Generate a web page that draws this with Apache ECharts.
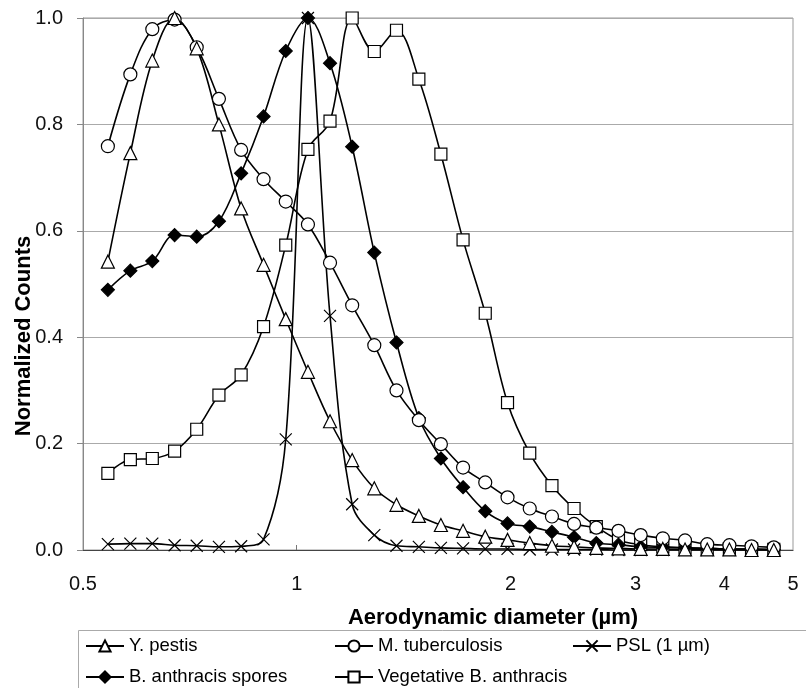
<!DOCTYPE html>
<html>
<head>
<meta charset="utf-8">
<script src="https://cdn.jsdelivr.net/npm/echarts@6/dist/echarts.min.js"></script>
<style>
html,body{margin:0;padding:0;background:#fff;}
#chart{width:806px;height:688px;}
</style>
</head>
<body>
<div id="chart"></div>
<script>
// Aerodynamic diameter bins (µm)
var diameters = [0.542, 0.583, 0.626, 0.673, 0.723, 0.777, 0.835, 0.898, 0.965, 1.037, 1.114, 1.197, 1.286, 1.382, 1.486, 1.596, 1.715, 1.843, 1.981, 2.129, 2.288, 2.458, 2.642, 2.839, 3.051, 3.278, 3.523, 3.786, 4.068, 4.371, 4.698];

var yPestis = [0.542, 0.746, 0.920, 1.000, 0.943, 0.800, 0.642, 0.536, 0.434, 0.335, 0.242, 0.169, 0.116, 0.085, 0.064, 0.047, 0.036, 0.025, 0.019, 0.013, 0.008, 0.006, 0.004, 0.003, 0.002, 0.002, 0.001, 0.001, 0.001, 0.000, 0.000];
var mTuberculosis = [0.759, 0.894, 0.979, 0.997, 0.945, 0.848, 0.752, 0.697, 0.655, 0.612, 0.540, 0.460, 0.385, 0.300, 0.244, 0.199, 0.155, 0.127, 0.099, 0.078, 0.063, 0.049, 0.042, 0.036, 0.028, 0.022, 0.018, 0.011, 0.009, 0.007, 0.005];
var psl = [0.011, 0.012, 0.012, 0.009, 0.008, 0.006, 0.007, 0.020, 0.208, 1.000, 0.440, 0.086, 0.028, 0.008, 0.006, 0.004, 0.003, 0.002, 0.002, 0.001, 0.001, 0.001, 0.001, 0.000, 0.000, 0.000, 0.000, 0.000, 0.000, 0.000, 0.000];
var baSpores = [0.489, 0.525, 0.543, 0.592, 0.589, 0.618, 0.708, 0.815, 0.938, 1.000, 0.915, 0.758, 0.559, 0.390, 0.248, 0.172, 0.118, 0.073, 0.050, 0.044, 0.034, 0.024, 0.013, 0.010, 0.006, 0.005, 0.004, 0.003, 0.002, 0.002, 0.001];
var vegBa = [0.144, 0.170, 0.172, 0.186, 0.227, 0.291, 0.329, 0.420, 0.573, 0.753, 0.806, 1.000, 0.937, 0.977, 0.885, 0.744, 0.583, 0.445, 0.277, 0.182, 0.121, 0.078, 0.044, 0.019, 0.010, 0.006, 0.004, 0.003, 0.002, 0.002, 0.001];

var seriesNames = ['Y. pestis', 'M. tuberculosis', 'PSL (1 µm)', 'B. anthracis spores', 'Vegetative B. anthracis'];

// X tick labels
var xTickValues = [0.5, 1, 2, 3, 4, 5];
var xTickLabels = ['0.5', '1', '2', '3', '4', '5'];

var FONT = 'Liberation Sans, Arial, sans-serif';

function pairs(ys) {
  return diameters.map(function (d, i) { return [d, ys[i]]; });
}

function mk(name, ys, symbol, size, fill) {
  return {
    name: name,
    type: 'line',
    data: pairs(ys),
    smooth: 0.35,
    symbol: symbol,
    symbolSize: size,
    showAllSymbol: true,
    lineStyle: { color: '#000', width: 1.6 },
    itemStyle: { color: fill, borderColor: '#000', borderWidth: 1.2 },
    emphasis: { disabled: true },
    animation: false
  };
}

var chart = echarts.init(document.getElementById('chart'), null, { renderer: 'canvas' });

var legendBase = {
  orient: 'horizontal',
  padding: 0,
  itemWidth: 38,
  itemHeight: 14,
  itemGap: 5,
  textStyle: { fontFamily: FONT, fontSize: 18.5, color: '#000', lineHeight: 20 },
  selectedMode: false
};
function lg(name, left, top) {
  return Object.assign({}, legendBase, { data: [name], left: left, top: top });
}

chart.setOption({
  backgroundColor: '#fff',
  animation: false,
  grid: { left: 83, right: 13, top: 18, bottom: 138, show: true, borderColor: '#999', borderWidth: 1 },
  xAxis: {
    type: 'log',
    logBase: 10,
    min: 0.5,
    max: 5,
    name: 'Aerodynamic diameter (µm)',
    nameLocation: 'middle',
    nameGap: 57,
    nameMoveOverlap: false,
    nameTextStyle: { fontFamily: FONT, fontSize: 22, fontWeight: 'bold', color: '#000', padding: [0, 0, 0, 110] },
    axisLine: { show: true, lineStyle: { color: '#444', width: 1.2 } },
    axisTick: { show: true, inside: true, length: 5, customValues: [1], lineStyle: { color: '#777' } },
    axisLabel: {
      fontFamily: FONT, fontSize: 20, color: '#111', margin: 24,
      customValues: xTickValues,
      formatter: function (v) {
        for (var i = 0; i < xTickValues.length; i++) {
          if (Math.abs(v - xTickValues[i]) < 1e-6) return xTickLabels[i];
        }
        return '';
      }
    },
    splitLine: { show: false },
    minorTick: { show: false }
  },
  yAxis: {
    type: 'value',
    min: 0,
    max: 1,
    interval: 0.2,
    name: 'Normalized Counts',
    nameLocation: 'middle',
    nameGap: 48,
    nameMoveOverlap: false,
    nameTextStyle: { fontFamily: FONT, fontSize: 22, fontWeight: 'bold', color: '#000', padding: [0, 104, 0, 0] },
    axisLine: { show: true, lineStyle: { color: '#888', width: 1 } },
    axisTick: { show: true, inside: false, length: 6, lineStyle: { color: '#888' } },
    axisLabel: {
      fontFamily: FONT, fontSize: 20, color: '#111', margin: 20,
      formatter: function (v) { return v.toFixed(1); }
    },
    splitLine: { show: true, lineStyle: { color: '#aaa', width: 1 } }
  },
  legend: [
    lg(seriesNames[0], 85, 636),
    lg(seriesNames[1], 334, 636),
    lg(seriesNames[2], 572, 636),
    lg(seriesNames[3], 85, 667),
    lg(seriesNames[4], 334, 667)
  ],
  graphic: [
    { type: 'rect', shape: { x: 78.5, y: 630.5, width: 740, height: 70 }, style: { fill: 'none', stroke: '#aaa', lineWidth: 1 }, z: -1, silent: true }
  ],
  series: [
    mk(seriesNames[4], vegBa, 'rect', 12, '#fff'),
    mk(seriesNames[3], baSpores, 'diamond', 13, '#000'),
    mk(seriesNames[2], psl, 'path://M0,0L10,10M10,0L0,10', 12, '#fff'),
    mk(seriesNames[1], mTuberculosis, 'circle', 13, '#fff'),
    mk(seriesNames[0], yPestis, 'triangle', 13, '#fff')
  ]
});
</script>
</body>
</html>
